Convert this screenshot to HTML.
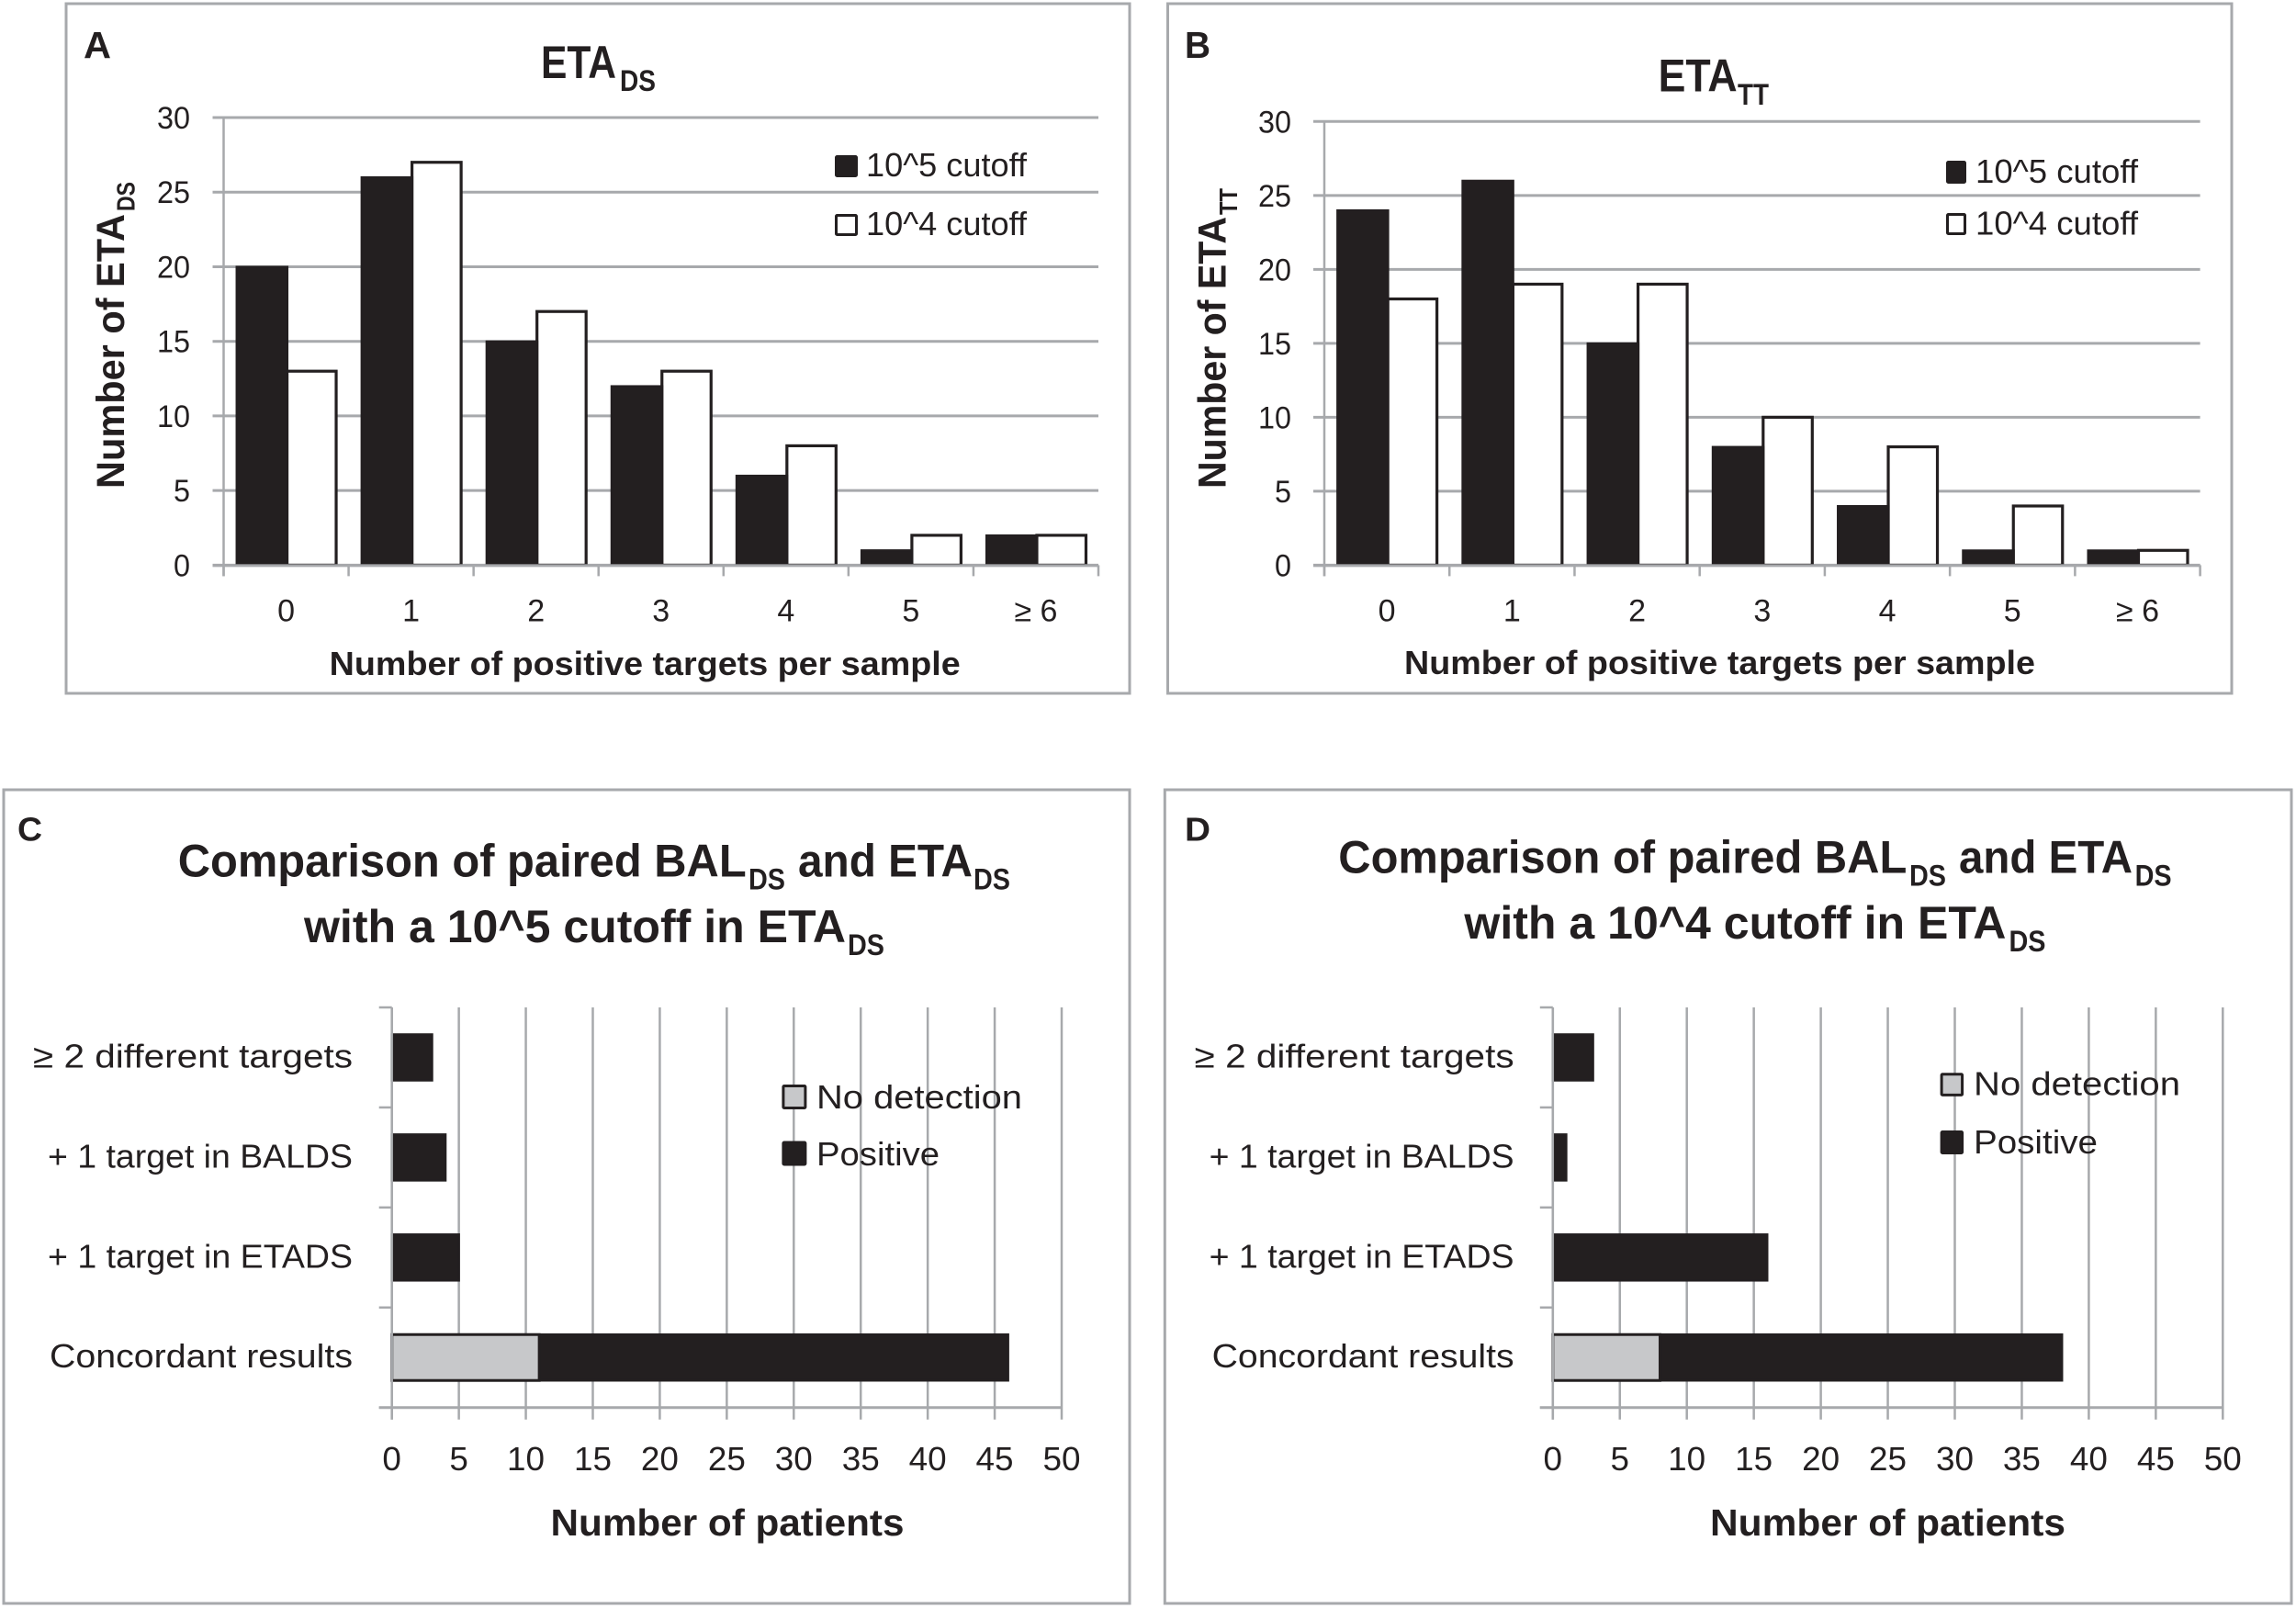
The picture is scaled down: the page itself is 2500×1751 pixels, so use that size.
<!DOCTYPE html>
<html lang="en">
<head>
<meta charset="utf-8">
<title>Positive targets per sample and paired sample comparison</title>
<style>
html,body{margin:0;padding:0;background:#fff;}
svg{display:block;}
text{font-family:"Liberation Sans",sans-serif;fill:#231f20;font-variant-ligatures:none;}
.lg{font-size:36px;}
.ttl{font-size:50px;font-weight:bold;}
.sub{font-size:32px;font-weight:bold;}
.ax{font-size:36px;font-weight:bold;}
.ax2{font-size:41px;font-weight:bold;}
.yt{font-size:43px;font-weight:bold;}
.ys{font-size:28px;font-weight:bold;}
.frame{fill:#fff;stroke:#a7a9ac;stroke-width:3;}
.let{font-size:41px;font-weight:bold;}
.let2{font-size:36px;font-weight:bold;}
</style>
</head>
<body>
<svg xmlns="http://www.w3.org/2000/svg" width="2500" height="1751" viewBox="0 0 2500 1751">
<rect x="0" y="0" width="2500" height="1751" fill="#fff"/>

<!-- Panel A -->
<g>
<rect class="frame" x="72" y="4" width="1158" height="751"/>
<text class="let" x="91" y="63" textLength="30" lengthAdjust="spacingAndGlyphs">A</text>
<text class="ttl" x="589" y="85" textLength="82" lengthAdjust="spacingAndGlyphs">ETA</text>
<text class="sub" x="675" y="99" textLength="39" lengthAdjust="spacingAndGlyphs">DS</text>
<text class="yt" transform="translate(135 532) rotate(-90)" textLength="299" lengthAdjust="spacingAndGlyphs">Number of ETA</text>
<text class="ys" transform="translate(146.7 230) rotate(-90)" textLength="32" lengthAdjust="spacingAndGlyphs">DS</text>
<g id="plot-a"></g>
<text class="ax" x="358.7" y="735" textLength="687" lengthAdjust="spacingAndGlyphs">Number of positive targets per sample</text>
<g>
<rect x="910.5" y="170.5" width="22" height="21" fill="#231f20" stroke="#231f20" stroke-width="3" rx="1"/>
<text class="lg" x="943" y="192" textLength="175" lengthAdjust="spacingAndGlyphs">10^5 cutoff</text>
<rect x="910.5" y="234.5" width="22" height="21" fill="#fff" stroke="#231f20" stroke-width="3" rx="1"/>
<text class="lg" x="943" y="256" textLength="175" lengthAdjust="spacingAndGlyphs">10^4 cutoff</text>
</g>
</g>

<!-- Panel B -->
<g>
<rect class="frame" x="1271.5" y="4" width="1158.5" height="751"/>
<text class="let" x="1290" y="63" textLength="28" lengthAdjust="spacingAndGlyphs">B</text>
<text class="ttl" x="1805.6" y="99.5" textLength="86" lengthAdjust="spacingAndGlyphs">ETA</text>
<text class="sub" x="1892" y="114" textLength="34" lengthAdjust="spacingAndGlyphs">TT</text>
<text class="yt" transform="translate(1334.5 532) rotate(-90)" textLength="296" lengthAdjust="spacingAndGlyphs">Number of ETA</text>
<text class="ys" transform="translate(1347 234) rotate(-90)" textLength="29" lengthAdjust="spacingAndGlyphs">TT</text>
<g id="plot-b"></g>
<text class="ax" x="1529" y="734" textLength="687" lengthAdjust="spacingAndGlyphs">Number of positive targets per sample</text>
<g>
<rect x="2120.5" y="176.5" width="19" height="22" fill="#231f20" stroke="#231f20" stroke-width="3" rx="1"/>
<text class="lg" x="2151" y="199" textLength="177" lengthAdjust="spacingAndGlyphs">10^5 cutoff</text>
<rect x="2120.5" y="233.5" width="19" height="21" fill="#fff" stroke="#231f20" stroke-width="3" rx="1"/>
<text class="lg" x="2151" y="255.5" textLength="177" lengthAdjust="spacingAndGlyphs">10^4 cutoff</text>
</g>
</g>

<!-- Panel C -->
<g>
<rect class="frame" x="4" y="860" width="1226" height="886"/>
<text class="let2" x="19" y="915.5" textLength="27" lengthAdjust="spacingAndGlyphs">C</text>
<g>
<text class="ttl" x="193.7" y="954.5" textLength="619" lengthAdjust="spacingAndGlyphs">Comparison of paired BAL</text>
<text class="sub" x="815" y="968.5" textLength="40" lengthAdjust="spacingAndGlyphs">DS</text>
<text class="ttl" x="869" y="954.5" textLength="190" lengthAdjust="spacingAndGlyphs">and ETA</text>
<text class="sub" x="1060" y="968.5" textLength="40" lengthAdjust="spacingAndGlyphs">DS</text>
<text class="ttl" x="331" y="1026" textLength="590" lengthAdjust="spacingAndGlyphs">with a 10^5 cutoff in ETA</text>
<text class="sub" x="923" y="1040" textLength="40" lengthAdjust="spacingAndGlyphs">DS</text>
</g>
<g id="plot-c"></g>
<text class="ax2" x="599.5" y="1672" textLength="385" lengthAdjust="spacingAndGlyphs">Number of patients</text>
<g>
<rect x="852.9" y="1182.5" width="24" height="24" fill="#c7c8ca" stroke="#231f20" stroke-width="3" rx="1"/>
<text class="lg" x="889" y="1207" textLength="224" lengthAdjust="spacingAndGlyphs">No detection</text>
<rect x="852.9" y="1244" width="24" height="24" fill="#231f20" stroke="#231f20" stroke-width="3" rx="1"/>
<text class="lg" x="889" y="1269" textLength="134" lengthAdjust="spacingAndGlyphs">Positive</text>
</g>
</g>

<!-- Panel D -->
<g>
<rect class="frame" x="1268.3" y="860" width="1226.7" height="886"/>
<text class="let2" x="1290" y="915.5" textLength="28" lengthAdjust="spacingAndGlyphs">D</text>
<g>
<text class="ttl" x="1457.3" y="950.7" textLength="619" lengthAdjust="spacingAndGlyphs">Comparison of paired BAL</text>
<text class="sub" x="2079" y="964.5" textLength="40" lengthAdjust="spacingAndGlyphs">DS</text>
<text class="ttl" x="2133" y="950.7" textLength="189" lengthAdjust="spacingAndGlyphs">and ETA</text>
<text class="sub" x="2324.6" y="964.5" textLength="40" lengthAdjust="spacingAndGlyphs">DS</text>
<text class="ttl" x="1594.4" y="1022" textLength="590" lengthAdjust="spacingAndGlyphs">with a 10^4 cutoff in ETA</text>
<text class="sub" x="2187.5" y="1036" textLength="40" lengthAdjust="spacingAndGlyphs">DS</text>
</g>
<g id="plot-d"></g>
<text class="ax2" x="1862" y="1672" textLength="387" lengthAdjust="spacingAndGlyphs">Number of patients</text>
<g>
<rect x="2114.1" y="1169.8" width="22.5" height="22.6" fill="#c7c8ca" stroke="#231f20" stroke-width="3" rx="1"/>
<text class="lg" x="2149" y="1192.7" textLength="225" lengthAdjust="spacingAndGlyphs">No detection</text>
<rect x="2114.1" y="1232.5" width="22.5" height="23" fill="#231f20" stroke="#231f20" stroke-width="3" rx="1"/>
<text class="lg" x="2149" y="1256" textLength="135" lengthAdjust="spacingAndGlyphs">Positive</text>
</g>
</g>

<script>
// ---- chart data ----
const targetCategories = ['0', '1', '2', '3', '4', '5', '≥ 6'];
const countTicks = ['0', '5', '10', '15', '20', '25', '30'];
const etaDsCutoff5 = [20, 26, 15, 12, 6, 1, 2];
const etaDsCutoff4 = [13, 27, 17, 13, 8, 2, 2];
const etaTtCutoff5 = [24, 26, 15, 8, 4, 1, 1];
const etaTtCutoff4 = [18, 19, 19, 10, 8, 4, 1];

const comparisonCategories = ['≥ 2 different targets', '+ 1 target in BALDS', '+ 1 target in ETADS', 'Concordant results'];
const patientTicks = ['0', '5', '10', '15', '20', '25', '30', '35', '40', '45', '50'];
const cutoff5NoDetection = [0, 0, 0, 11];
const cutoff5Positive = [3, 4, 5, 35];
const cutoff4NoDetection = [0, 0, 0, 8];
const cutoff4Positive = [3, 1, 16, 30];

// ---- drawing ----
const SVG_NS = 'http://www.w3.org/2000/svg';
const INK = '#231f20';
const GRID = '#a7a9ac';
const GREY = '#c7c8ca';
const COUNT_MAX = 30;
const PATIENT_MAX = 50;

function make(parent, tag, attrs) {
  const el = document.createElementNS(SVG_NS, tag);
  for (const k in attrs) el.setAttribute(k, attrs[k]);
  parent.appendChild(el);
  return el;
}

function drawColumnPanel(parent, box, dark, light) {
  const yPos = v => box.bottom - (v / COUNT_MAX) * (box.bottom - box.top);
  const catW = (box.right - box.left) / targetCategories.length;
  const center = i => box.left + catW * (i + 0.5);

  countTicks.forEach(t => {
    const y = yPos(Number(t));
    const grid = make(parent, 'line', {x1: box.left - 12, x2: box.right, y1: y, y2: y, stroke: GRID, 'stroke-width': 3});
    
    
    const label = make(parent, 'text', {x: box.labelRight, y: y + 12, 'text-anchor': 'end', 'font-size': 34, textLength: t.length * 18, lengthAdjust: 'spacingAndGlyphs'});
    
    
    label.textContent = t;
  });

  const yAxis = make(parent, 'line', {x1: box.left, x2: box.left, y1: box.top, y2: box.bottom + 12, stroke: GRID, 'stroke-width': 2.5});
  
  

  for (let i = 0; i <= targetCategories.length; i++) {
    const x = box.left + catW * i;
    const tick = make(parent, 'line', {x1: x, x2: x, y1: box.bottom, y2: box.bottom + 12, stroke: GRID, 'stroke-width': 2.5});
    
    
  }

  targetCategories.forEach((c, i) => {
    const cx = center(i);
    const lightBar = make(parent, 'rect', {x: cx + 1, y: yPos(light[i]), width: 53.5, height: box.bottom - yPos(light[i]), fill: '#fff', stroke: INK, 'stroke-width': 3.2});
    
    
    const darkBar = make(parent, 'rect', {x: cx - 54, y: yPos(dark[i]), width: 55.5, height: box.bottom - yPos(dark[i]), fill: INK, stroke: INK, 'stroke-width': 2});
    
    
    const label = make(parent, 'text', {x: cx, y: box.bottom + 61, 'text-anchor': 'middle', 'font-size': 34});
    
    
    label.textContent = c;
  });

  const base = make(parent, 'line', {x1: box.left - 12, x2: box.right, y1: box.bottom + 0.5, y2: box.bottom + 0.5, stroke: GRID, 'stroke-width': 3});
  
  
}

function drawBarPanel(parent, box, none, positive) {
  const xPos = v => box.left + (v / PATIENT_MAX) * (box.right - box.left);
  const n = comparisonCategories.length;
  const rowH = (box.bottom - box.top) / n;

  patientTicks.forEach(t => {
    const x = xPos(Number(t));
    const grid = make(parent, 'line', {x1: x, x2: x, y1: box.top, y2: box.bottom + 13, stroke: GRID, 'stroke-width': 2.5});
    
    
    const label = make(parent, 'text', {x: x, y: box.bottom + 68.5, 'text-anchor': 'middle', 'font-size': 36, textLength: t.length * 20.5, lengthAdjust: 'spacingAndGlyphs'});
    
    
    label.textContent = t;
  });

  for (let i = 0; i <= n; i++) {
    const y = box.top + rowH * i;
    const tick = make(parent, 'line', {x1: box.left - 14, x2: box.left, y1: y, y2: y, stroke: GRID, 'stroke-width': 2.5});
    
    
  }

  const base = make(parent, 'line', {x1: box.left - 14, x2: box.right, y1: box.bottom, y2: box.bottom, stroke: GRID, 'stroke-width': 3});
  
  

  const labelWidths = {
    '≥ 2 different targets': box.labelW[0],
    '+ 1 target in BALDS': box.labelW[1],
    '+ 1 target in ETADS': box.labelW[2],
    'Concordant results': box.labelW[3]
  };

  comparisonCategories.forEach((c, i) => {
    const rowMid = box.top + rowH * (i + 0.5);
    const barH = 50;
    const posBar = make(parent, 'rect', {x: xPos(none[i]), y: rowMid - barH / 2, width: xPos(none[i] + positive[i]) - xPos(none[i]), height: barH, fill: INK, stroke: INK, 'stroke-width': 2.5});
    
    
    if (none[i] > 0) {
      const noneBar = make(parent, 'rect', {x: xPos(0), y: rowMid - barH / 2, width: xPos(none[i]) - xPos(0), height: barH, fill: GREY, stroke: INK, 'stroke-width': 3});
      
      
    }
    const label = make(parent, 'text', {x: box.labelRight, y: rowMid + 11, 'text-anchor': 'end', 'font-size': 36, textLength: labelWidths[c], lengthAdjust: 'spacingAndGlyphs'});
    
    
    label.textContent = c;
  });

  const yAxis = make(parent, 'line', {x1: box.left, x2: box.left, y1: box.top, y2: box.bottom + 13, stroke: GRID, 'stroke-width': 2.5});
  
  
}

drawColumnPanel(document.getElementById('plot-a'), {left: 243.5, right: 1196, top: 128, bottom: 615.4, labelRight: 207}, etaDsCutoff5, etaDsCutoff4);
drawColumnPanel(document.getElementById('plot-b'), {left: 1442, right: 2395.6, top: 132.3, bottom: 615.4, labelRight: 1406}, etaTtCutoff5, etaTtCutoff4);
drawBarPanel(document.getElementById('plot-c'), {left: 426.7, right: 1156, top: 1097, bottom: 1532.7, labelRight: 384, labelW: [348, 332, 332, 330]}, cutoff5NoDetection, cutoff5Positive);
drawBarPanel(document.getElementById('plot-d'), {left: 1690.8, right: 2420.3, top: 1097, bottom: 1532.7, labelRight: 1648.6, labelW: [348, 332, 332, 329]}, cutoff4NoDetection, cutoff4Positive);
</script>
</svg>
</body>
</html>
